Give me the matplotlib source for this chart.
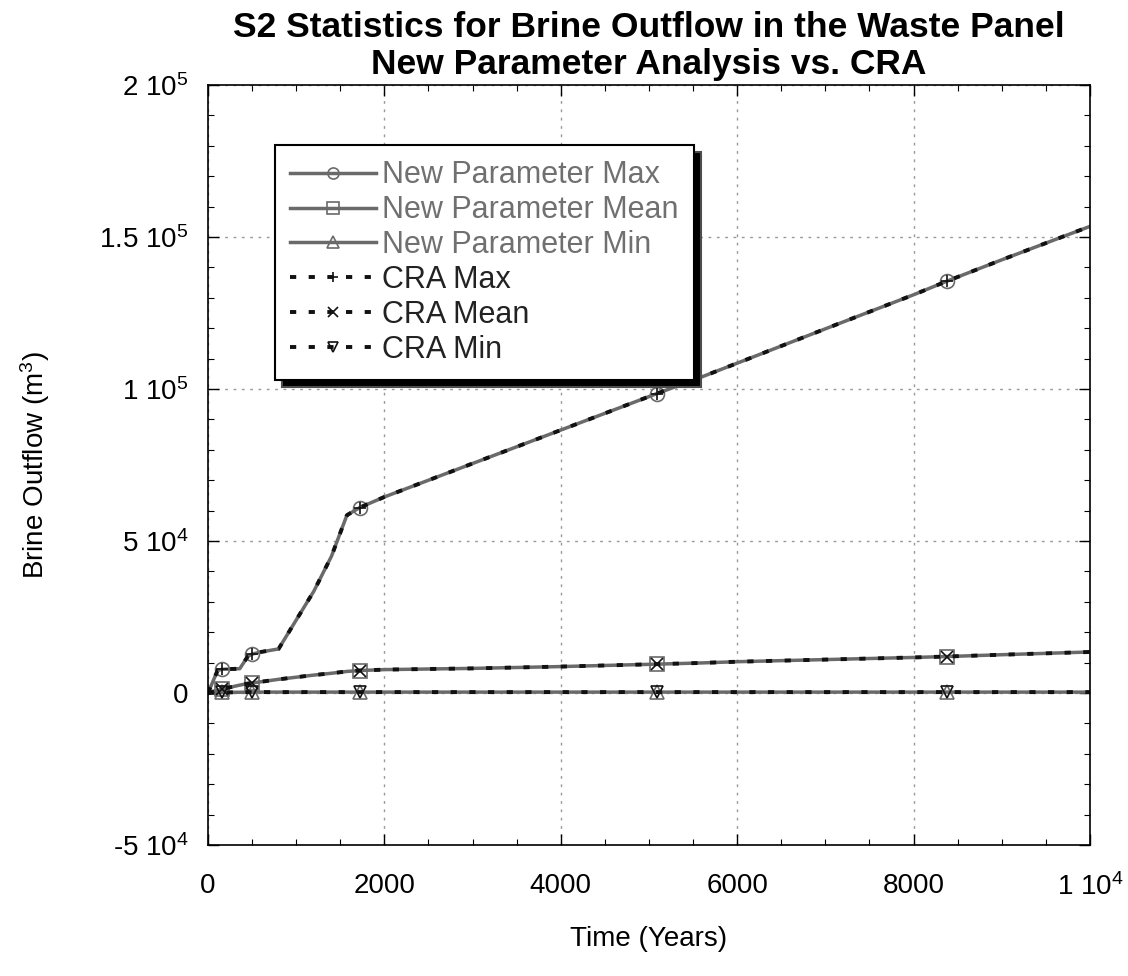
import matplotlib
matplotlib.use("Agg")
import matplotlib.pyplot as plt
from matplotlib.ticker import FixedLocator, FixedFormatter, MultipleLocator

plt.rcParams['font.family'] = ['Liberation Sans', 'DejaVu Sans']
plt.rcParams['mathtext.default'] = 'regular'

# time grid (years) shared by all statistics
years = [0, 110, 160, 360, 450, 500, 600, 800, 1000, 1200, 1400, 1575, 1720,
         2000, 3000, 4000, 5090, 5600, 6000, 7000, 8000, 8380, 9000, 10000]

# cumulative brine outflow (m^3)
new_max = [0, 7500, 7800, 8000, 12000, 12800, 13500, 14500, 24000, 33500, 45000,
           58500, 61000, 64500, 75500, 86500, 98500, 104000, 108500, 119800,
           131000, 135500, 142500, 153500]
new_mean = [0, 900, 1300, 2600, 3100, 3300, 3700, 4500, 5200, 5900, 6500, 7100,
            7400, 7700, 8100, 8700, 9500, 9900, 10300, 11000, 11700, 12000,
            12600, 13500]
new_min = [0, 150, 200, 250, 300, 300, 300, 300, 300, 300, 300, 300, 300, 300,
           300, 300, 300, 300, 300, 300, 300, 300, 300, 300]

cra_max = [0, 7500, 7800, 8000, 12000, 12800, 13500, 14500, 24000, 33500, 45000,
           58500, 61000, 64500, 75500, 86500, 98500, 104000, 108500, 119800,
           131000, 135500, 142500, 153500]
cra_mean = [0, 900, 1300, 2600, 3100, 3300, 3700, 4500, 5200, 5900, 6500, 7100,
            7400, 7700, 8100, 8700, 9500, 9900, 10300, 11000, 11700, 12000,
            12600, 13500]
cra_min = [0, 150, 200, 250, 300, 300, 300, 300, 300, 300, 300, 300, 300, 300,
           300, 300, 300, 300, 300, 300, 300, 300, 300, 300]

marker_years = [160, 500, 1720, 5090, 8380]

xtick_vals = [0, 2000, 4000, 6000, 8000, 10000]
xtick_labels = ['0', '2000', '4000', '6000', '8000', '1 10$^4$']
ytick_vals = [-50000, 0, 50000, 100000, 150000, 200000]
ytick_labels = ['-5 10$^4$', '0', '5 10$^4$', '1 10$^5$', '1.5 10$^5$', '2 10$^5$']

marks = [years.index(y) for y in marker_years]

fig = plt.figure(figsize=(11.28, 9.76), dpi=100)
ax = fig.add_axes([0.1844, 0.1342, 0.7819, 0.7787])

gray = '#6a6a6a'
dots = (0, (1.6, 3.2))

ax.plot(years, new_max, color=gray, lw=2.5, marker='o', ms=10, mfc='none',
        mec=gray, mew=1.2, markevery=marks, label='New Parameter Max')
ax.plot(years, new_mean, color=gray, lw=2.5, marker='s', ms=10, mfc='none',
        mec=gray, mew=1.2, markevery=marks, label='New Parameter Mean')
ax.plot(years, new_min, color=gray, lw=2.5, marker='^', ms=10, mfc='none',
        mec=gray, mew=1.2, markevery=marks, label='New Parameter Min')
ax.plot(years, cra_max, color='#111111', lw=2.8, ls=dots, marker='+', ms=9,
        mew=1.2, markevery=marks, label='CRA Max')
ax.plot(years, cra_mean, color='#111111', lw=2.8, ls=dots, marker='x', ms=9,
        mew=1.2, markevery=marks, label='CRA Mean')
ax.plot(years, cra_min, color='#111111', lw=2.8, ls=dots, marker='v', ms=9,
        mfc='none', mew=1.2, markevery=marks, label='CRA Min')

ax.set_xlim(0, 10000)
ax.set_ylim(-50000, 200000)
ax.xaxis.set_major_locator(FixedLocator(xtick_vals))
ax.xaxis.set_major_formatter(FixedFormatter(xtick_labels))
ax.yaxis.set_major_locator(FixedLocator(ytick_vals))
ax.yaxis.set_major_formatter(FixedFormatter(ytick_labels))
ax.xaxis.set_minor_locator(MultipleLocator(500))
ax.yaxis.set_minor_locator(MultipleLocator(10000))

ax.tick_params(which='both', direction='in', top=True, right=True, colors='black')
ax.tick_params(which='major', length=8, width=1)
ax.tick_params(which='minor', length=4, width=0.8)
ax.tick_params(axis='x', labelsize=20, pad=20)
ax.tick_params(axis='y', labelsize=20, pad=14)
for s in ax.spines.values():
    s.set_linewidth(1.2)

ax.grid(True, which='major', color='#999999', lw=1.0, ls=(0, (2, 4)))

ax.set_xlabel('Time (Years)', fontsize=20, labelpad=18)
ax.set_ylabel('Brine Outflow (m$^3$)', fontsize=20, labelpad=34)
ax.set_title('S2 Statistics for Brine Outflow in the Waste Panel\n'
             'New Parameter Analysis vs. CRA',
             fontsize=25.5, fontweight='bold', linespacing=1.15, pad=8)

leg = ax.legend(loc='upper left', bbox_to_anchor=(0.076, 0.921), fontsize=22,
                frameon=True, fancybox=False, edgecolor='black', framealpha=1,
                shadow={'ox': 5, 'oy': -5, 'facecolor': 'black', 'alpha': 1},
                handlelength=2.8, handletextpad=0.2, labelspacing=0.16,
                borderpad=0.5, markerscale=0.8, borderaxespad=0)
leg.get_frame().set_linewidth(1.5)
for txt in leg.get_texts()[:3]:
    txt.set_color('#707070')
for txt in leg.get_texts()[3:]:
    txt.set_color('#222222')

fig.savefig('out.png', dpi=100, facecolor='white')
